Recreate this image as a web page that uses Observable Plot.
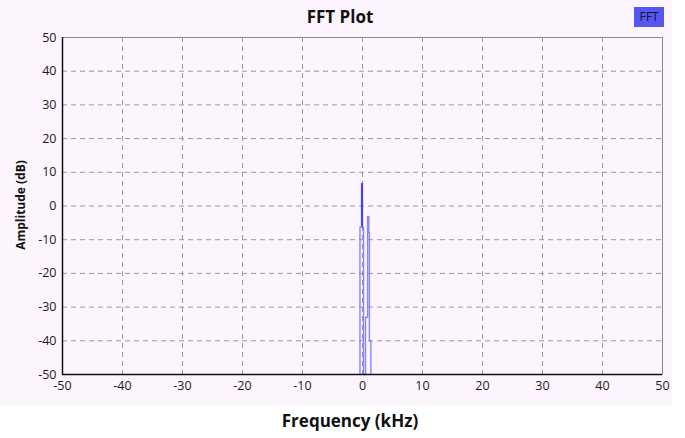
<!DOCTYPE html>
<html><head><meta charset="utf-8">
<script src="https://cdn.jsdelivr.net/npm/d3@7"></script>
<script src="https://cdn.jsdelivr.net/npm/@observablehq/plot@0.6"></script>
<style>
body{margin:0;background:#fff;font-family:"Open Sans","DejaVu Sans",sans-serif}
#wrap{position:relative;width:685px;height:438px;overflow:hidden}
#bg{position:absolute;left:0;top:0;width:672px;height:405px;background:#fdf5fd}
#chart{position:absolute;left:0;top:0}
#title{position:absolute;left:0;width:680px;top:5px;text-align:center;font-weight:bold;font-size:17px;color:#111}
#legend{position:absolute;left:634px;top:7px;width:30px;height:20px;background:#5656f0;color:#15153a;font-size:12px;line-height:20px;text-align:center}
#ylab{position:absolute;left:20px;top:205px;transform:translate(-50%,-50%) rotate(-90deg);font-weight:bold;font-size:12px;white-space:nowrap;color:#111}
#xlab{position:absolute;left:0;width:700px;top:409px;text-align:center;font-weight:bold;font-size:17px;color:#111}
</style></head>
<body>
<div id="wrap">
  <div id="bg"></div>
  <div id="chart"></div>
  <div id="title">FFT Plot</div>
  <div id="legend">FFT</div>
  <div id="ylab">Amplitude (dB)</div>
  <div id="xlab">Frequency (kHz)</div>
</div>
<script>
const xTicks = [-50,-40,-30,-20,-10,0,10,20,30,40,50];
const yTicks = [-50,-40,-30,-20,-10,0,10,20,30,40,50];
const spikeFreq = [-0.08];
const spikeLow = [-6.3];
const spikeHigh = [6.7];
const outlineFreq = [-0.42,-0.42,0.17,0.17,0.5,0.5,0.85,0.85,1.05,1.05,1.15,1.15,1.4,1.4];
const outlineDb   = [-50,-6.3,-6.3,-50,-50,-33,-33,-3.1,-3.1,-7.8,-7.8,-40,-40,-50];

const outline = outlineFreq.map((f,i)=>({f, db: outlineDb[i]}));
const spikes = spikeFreq.map((f,i)=>({f, lo: spikeLow[i], hi: spikeHigh[i]}));
const fmt = d => String(d);

const chart = Plot.plot({
  width: 672, height: 405,
  marginTop: 37, marginLeft: 62, marginRight: 10, marginBottom: 31,
  style: {background: "transparent", fontSize: "12.5px", fontFamily: "'Open Sans','DejaVu Sans',sans-serif", color: "#1a1a1a"},
  x: {domain: [-50, 50], ticks: xTicks, tickFormat: fmt, label: null, tickSize: 0, tickPadding: 7},
  y: {domain: [-50, 50], ticks: yTicks, tickFormat: fmt, label: null, tickSize: 0, tickPadding: 6},
  marks: [
    Plot.gridX(xTicks, {stroke: "#999", strokeOpacity: 1, strokeDasharray: "5,4", strokeWidth: 1}),
    Plot.gridY(yTicks, {stroke: "#999", strokeOpacity: 1, strokeDasharray: "5,4", strokeWidth: 1}),
    Plot.frame({stroke: "#8a8a8a"}),
    Plot.line(outline, {x: "f", y: "db", stroke: "#7a7aff", strokeWidth: 1.4, strokeOpacity: 0.9, curve: "linear"}),
    Plot.ruleX(spikes, {x: "f", y1: "lo", y2: "hi", stroke: "#4040ff", strokeWidth: 2.2}),
    Plot.ruleY([-50], {stroke: "#111", strokeWidth: 1.5}),
    Plot.ruleX([-50], {stroke: "#111", strokeWidth: 1.5})
  ]
});
document.getElementById("chart").appendChild(chart);
</script>
</body></html>
